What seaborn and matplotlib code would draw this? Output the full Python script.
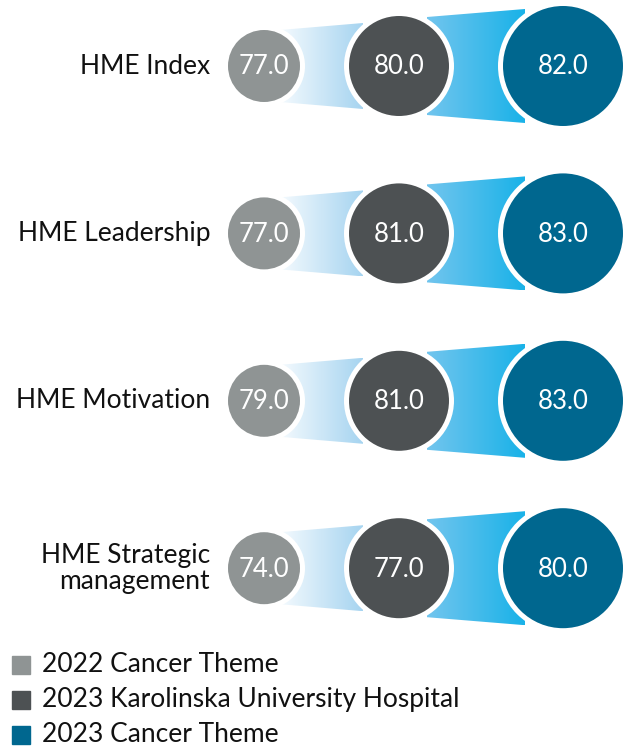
import numpy as np
import pandas as pd
import matplotlib.pyplot as plt
import seaborn as sns
from matplotlib.patches import Polygon, Rectangle
from matplotlib.colors import LinearSegmentedColormap

# data
categories = ["HME Index", "HME Leadership", "HME Motivation", "HME Strategic\nmanagement"]
series = ["2022 Cancer Theme", "2023 Karolinska University Hospital", "2023 Cancer Theme"]
v2022_cancer = [77.0, 77.0, 79.0, 74.0]
v2023_karolinska = [80.0, 81.0, 81.0, 77.0]
v2023_cancer = [82.0, 83.0, 83.0, 80.0]

colors = ["#8f9494", "#4d5153", "#00678f"]

sns.set_theme(style="white")
plt.rcParams['font.family'] = ['Lato', 'DejaVu Sans']

W, H = 624, 749
fig = plt.figure(figsize=(W / 100, H / 100), dpi=100)
ax = fig.add_axes([0, 0, 1, 1])
ax.set_xlim(0, W)
ax.set_ylim(H, 0)
ax.axis('off')

# layout (pixels)
col_x = [264, 399, 563]
col_r = [36, 50, 60]
row_y = [66 + i * 167.4 for i in range(len(categories))]

rows = []
for i, cat in enumerate(categories):
    for j, vals in enumerate([v2022_cancer, v2023_karolinska, v2023_cancer]):
        rows.append({"cat": cat, "series": series[j], "x": col_x[j], "y": row_y[i],
                     "r": col_r[j], "value": vals[i]})
df = pd.DataFrame(rows)

# connectors with gradient
grad1 = LinearSegmentedColormap.from_list("g1", ["#f4fafe", "#a6d4f0"])
grad2 = LinearSegmentedColormap.from_list("g2", ["#72c5ee", "#19b2e8"])
ramp = np.linspace(0, 1, 256).reshape(1, -1)
for y in row_y:
    segs = [(col_x[0] + 16, 36, col_x[1] - 36, 43, grad1),
            (col_x[1] + 28, 49, col_x[2] - 38, 57, grad2)]
    for x0, h0, x1, h1, cm in segs:
        poly = Polygon([(x0, y - h0), (x1, y - h1), (x1, y + h1), (x0, y + h0)],
                       closed=True, facecolor='none', edgecolor='none')
        ax.add_patch(poly)
        im = ax.imshow(ramp, cmap=cm, aspect='auto',
                       extent=(x0, x1, y + h1, y - h1), zorder=1)
        im.set_clip_path(poly)

# circles: size in points^2 from pixel radius
df["s"] = (2 * (df["r"] + 5) * 0.72) ** 2
sns.scatterplot(data=df, x="x", y="y", s=df["s"], color="white", edgecolor="none",
                ax=ax, legend=False, zorder=2)
df["s"] = (2 * df["r"] * 0.72) ** 2
sns.scatterplot(data=df, x="x", y="y", hue="series", palette=colors, s=df["s"],
                edgecolor="none", ax=ax, legend=False, zorder=3)
ax.set_xlim(0, W)
ax.set_ylim(H, 0)

for _, r in df.iterrows():
    ax.text(r["x"], r["y"] + 1, f"{r['value']:.1f}", color="white", fontsize=18.5,
            ha="center", va="center", zorder=4)

for i, cat in enumerate(categories):
    ax.text(210, row_y[i], cat, fontsize=19, ha="right", va="center",
            color="#111111", linespacing=1.05)

# legend
for j, name in enumerate(series):
    ly = 665 + j * 35
    ax.add_patch(Rectangle((12, ly - 9), 18, 18, color=colors[j]))
    ax.text(42, ly, name, fontsize=19, ha="left", va="center", color="#111111")

fig.savefig("out.png", dpi=100)
